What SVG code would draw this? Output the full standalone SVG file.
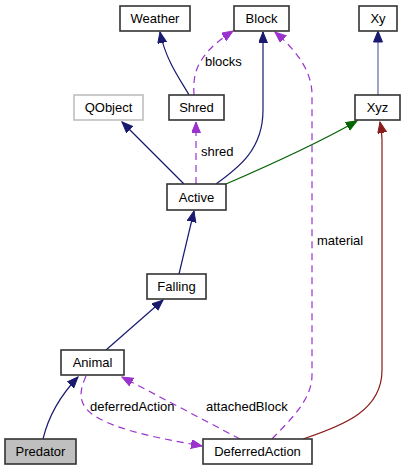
<svg xmlns="http://www.w3.org/2000/svg" width="406" height="471" viewBox="0 0 406 471">
<style>
.n rect{fill:#fff;stroke:#333;stroke-width:1.6}
.n text{font-family:"Liberation Sans",Arial,sans-serif;font-size:13px;text-anchor:middle;fill:#000}
.lbl{font-family:"Liberation Sans",Arial,sans-serif;font-size:13px;fill:#000}
.e{fill:none;stroke-width:1.2}
.pub{stroke:#191970;marker-end:url(#aNavy)}
.use{stroke:#9a32cd;stroke-dasharray:7,5;marker-end:url(#aPurple)}
.prot{stroke:#006400;marker-end:url(#aGreen)}
.priv{stroke:#8b1a1a;marker-end:url(#aRed)}
</style>
<defs>
<marker id="aNavy" markerUnits="userSpaceOnUse" markerWidth="12" markerHeight="10" refX="11" refY="4.5" orient="auto"><path d="M0,0 L11,4.5 L0,9 z" fill="#191970" stroke="#191970"/></marker>
<marker id="aPurple" markerUnits="userSpaceOnUse" markerWidth="12" markerHeight="10" refX="11" refY="4.5" orient="auto"><path d="M0,0 L11,4.5 L0,9 z" fill="#9a32cd" stroke="#9a32cd"/></marker>
<marker id="aGreen" markerUnits="userSpaceOnUse" markerWidth="12" markerHeight="10" refX="11" refY="4.5" orient="auto"><path d="M0,0 L11,4.5 L0,9 z" fill="#006400" stroke="#006400"/></marker>
<marker id="aRed" markerUnits="userSpaceOnUse" markerWidth="12" markerHeight="10" refX="11" refY="4.5" orient="auto"><path d="M0,0 L11,4.5 L0,9 z" fill="#8b1a1a" stroke="#8b1a1a"/></marker>
</defs>
<g id="edges">
<path class="e pub" d="M189,95 C182,82 166,62 160,32"/>
<path class="e use" d="M194,95 C193,76 194,56 233,31"/>
<path class="e pub" d="M216,184 C238,168 263,150 263,110 L263,32"/>
<path class="e use" d="M272,439 C290,420 312,400 312,375 L312,95 C312,72 298,52 275,32"/>
<path class="e" stroke="#5c65a6" d="M378,95 L378,40"/>
<path d="M373.5,42 L378,31 L382.5,42 z" fill="#191970" stroke="#191970"/>
<path class="e pub" d="M184,184 L122,122"/>
<path class="e use" d="M196,184 L196,122"/>
<path class="e prot" d="M226,184 C270,165 320,142 357,121"/>
<path class="e priv" d="M303,439 C345,425 382,410 382,370 L382,140 C382,132 381,127 380,122"/>
<path class="e pub" d="M179,274 L194,211"/>
<path class="e pub" d="M106,350 L163,300"/>
<path class="e pub" d="M43,439 C48,418 58,398 78,377"/>
<path class="e use" d="M240,439 L122,377"/>
<path class="e use" d="M86,376 C80,390 76,404 95,416 C120,432 170,440 202,446"/>
<text class="lbl" x="205" y="66">blocks</text>
<text class="lbl" x="317" y="245">material</text>
<text class="lbl" x="201" y="156">shred</text>
<text class="lbl" x="206" y="411">attachedBlock</text>
<text class="lbl" x="90" y="411">deferredAction</text>
</g>
<g id="Weather" class="n"><rect x="120" y="6" width="70" height="25"/><text x="155" y="23">Weather</text></g>
<g id="Block" class="n"><rect x="234" y="6" width="55" height="25"/><text x="261.5" y="23">Block</text></g>
<g id="Xy" class="n"><rect x="359" y="6" width="38" height="25"/><text x="378" y="23">Xy</text></g>
<g id="QObject" class="n"><rect x="74" y="95" width="69" height="25" style="stroke:#bfbfbf"/><text x="108.5" y="112">QObject</text></g>
<g id="Shred" class="n"><rect x="169" y="95" width="55" height="25"/><text x="196.5" y="112">Shred</text></g>
<g id="Xyz" class="n"><rect x="355" y="95" width="45" height="25"/><text x="377.5" y="112">Xyz</text></g>
<g id="Active" class="n"><rect x="167" y="184" width="59" height="26"/><text x="196.5" y="201.5">Active</text></g>
<g id="Falling" class="n"><rect x="147" y="274" width="59" height="25"/><text x="176.5" y="291">Falling</text></g>
<g id="Animal" class="n"><rect x="61" y="350" width="63" height="25"/><text x="92.5" y="367">Animal</text></g>
<g id="Predator" class="n"><rect x="5" y="439" width="71" height="25" style="fill:#bfbfbf"/><text x="40.5" y="456">Predator</text></g>
<g id="DeferredAction" class="n"><rect x="203" y="439" width="109" height="25"/><text x="257.5" y="456">DeferredAction</text></g>
</svg>
